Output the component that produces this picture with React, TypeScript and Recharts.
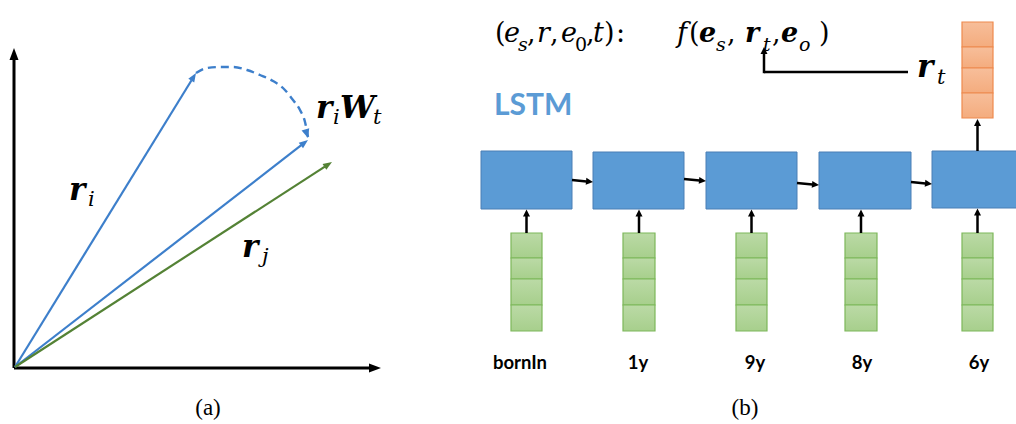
import React from 'react';
import { ComposedChart, XAxis, YAxis, Line, ReferenceLine, ReferenceArea, ReferenceDot } from 'recharts';

const W = 1016;
const H = 424;

// ---------- panel (a): vector space ----------
const originX = 14;
const originY = 368;
const axisEndX = [14, 381];
const axisEndY = [48, 368];
const vectorNames = ['r_i', 'r_iW_t', 'r_j'];
const vectorTipX = [196, 308, 332];
const vectorTipY = [73, 140, 162];
const arcX = [196, 207, 220, 233, 247, 260, 273, 283, 293, 300, 305, 308];
const arcY = [73, 68, 67, 67, 70, 75, 81, 88, 100, 110, 122, 137];

// ---------- panel (b): LSTM chain ----------
const steps = ['bornIn', '1y', '9y', '8y', '6y'];
const boxLeft = [481, 593, 706, 819, 932];
const boxRight = [572, 684, 797, 911, 1023];
const boxTop = [151, 152, 152, 152, 151];
const boxBottom = [209, 209, 209, 209, 208];
const stackLeft = [511, 623, 736, 845, 962];
const stackRight = [542, 655, 767, 877, 993];
const inputCellEdges = [233, 258, 279, 305, 331];
const outputCellEdges = [22, 47, 68, 93, 118];
const linkY1 = [180, 179, 183, 182];
const linkY2 = [182, 181, 185, 184];
const stepLabelX = [520, 638, 755, 862, 979];
const stepLabelY = 369;
const rtPathX = [908, 764, 764];
const rtPathY = [72, 72, 47];
const tagX = [208, 745];
const tagY = 415;
const tags = ['(a)', '(b)'];

// ---------- styles ----------
const BLUE_VEC = '#3D7FCB';
const GREEN_VEC = '#548235';
const BOX_FILL = '#5B9BD5';
const BOX_STROKE = '#4A7FB5';
const MATH_FONT = 'DejaVu Serif';

type Tok = { s: string; dx: number; sub?: boolean; bold?: boolean; up?: boolean };

const arrowShape = (color: string, width: number, headLen: number, headW: number) => (p: any) => {
  const { x1, y1, x2, y2 } = p;
  const ang = Math.atan2(y2 - y1, x2 - x1);
  const bx = x2 - headLen * Math.cos(ang);
  const by = y2 - headLen * Math.sin(ang);
  const px = (-Math.sin(ang) * headW) / 2;
  const py = (Math.cos(ang) * headW) / 2;
  return (
    <g>
      <line x1={x1} y1={y1} x2={bx + 0.5 * Math.cos(ang)} y2={by + 0.5 * Math.sin(ang)} stroke={color} strokeWidth={width} />
      <polygon points={`${x2},${y2} ${bx + px},${by + py} ${bx - px},${by - py}`} fill={color} />
    </g>
  );
};

const plainLine = (color: string, width: number) => (p: any) => (
  <line x1={p.x1} y1={p.y1} x2={p.x2} y2={p.y2} stroke={color} strokeWidth={width} />
);

const mathShape = (toks: Tok[], size: number, subSize: number, subShift: number) => (p: any) => (
  <g>
    {toks.map((t, i) => (
      <text
        key={i}
        x={p.cx + t.dx}
        y={p.cy + (t.sub ? subShift : 0)}
        fill="#000"
        fontFamily={MATH_FONT}
        fontSize={t.sub ? subSize : size}
        fontWeight={t.bold ? 700 : 400}
        fontStyle={t.up ? 'normal' : 'italic'}
      >
        {t.s}
      </text>
    ))}
  </g>
);

const plainTextShape = (s: string, font: string, size: number, weight: number, color: string, anchor: string) => (p: any) => (
  <text x={p.cx} y={p.cy} fontFamily={font} fontSize={size} fontWeight={weight} fill={color} textAnchor={anchor as any}>
    {s}
  </text>
);

const formula1: Tok[] = [
  { s: '(', dx: 0, up: true },
  { s: 'e', dx: 9 },
  { s: 's', dx: 23, sub: true },
  { s: ',', dx: 32, up: true },
  { s: 'r', dx: 42 },
  { s: ',', dx: 55, up: true },
  { s: 'e', dx: 66 },
  { s: '0', dx: 80, sub: true, up: true },
  { s: ',', dx: 91, up: true },
  { s: 't', dx: 98 },
  { s: ')', dx: 109, up: true },
  { s: ':', dx: 121, up: true },
];
const formula2: Tok[] = [
  { s: 'f', dx: 0 },
  { s: '(', dx: 12, up: true },
  { s: 'e', dx: 22, bold: true },
  { s: 's', dx: 39, sub: true },
  { s: ',', dx: 50, up: true },
  { s: 'r', dx: 68, bold: true },
  { s: 't', dx: 86, sub: true },
  { s: ',', dx: 95, up: true },
  { s: 'e', dx: 104, bold: true },
  { s: 'o', dx: 122, sub: true },
  { s: ')', dx: 142, up: true },
];
const labelTokens: Record<string, Tok[]> = {
  r_i: [
    { s: 'r', dx: 0, bold: true },
    { s: 'i', dx: 19, sub: true },
  ],
  r_iW_t: [
    { s: 'r', dx: 0, bold: true },
    { s: 'i', dx: 17, sub: true },
    { s: 'W', dx: 24, bold: true },
    { s: 't', dx: 57, sub: true },
  ],
  r_j: [
    { s: 'r', dx: 0, bold: true },
    { s: 'j', dx: 20, sub: true },
  ],
  r_t: [
    { s: 'r', dx: 0, bold: true },
    { s: 't', dx: 20, sub: true },
  ],
};
const labelAnchorX = [69, 316, 242];
const labelAnchorY = [200, 118, 257];
const rtLabelX = 917;
const rtLabelY = 77;
const formulaX = [495, 677];
const formulaY = 42;
const lstmX = 494;
const lstmY = 115;

export default function App() {
  const arcData = arcX.map((x, i) => ({ x, y: arcY[i] }));
  const out = steps.length - 1;

  return (
    <div style={{ position: 'fixed', left: 0, top: 0, width: W, height: H, overflow: 'hidden', background: '#fff' }}>
      <svg width={0} height={0} style={{ position: 'absolute' }}>
        <defs>
          <linearGradient id="gGreen" x1="0" y1="0" x2="0" y2="1">
            <stop offset="0" stopColor="#BBDAA6" />
            <stop offset="1" stopColor="#A7CF8C" />
          </linearGradient>
          <linearGradient id="gOrange" x1="0" y1="0" x2="0" y2="1">
            <stop offset="0" stopColor="#F7BE9A" />
            <stop offset="1" stopColor="#F4AC7E" />
          </linearGradient>
        </defs>
      </svg>
      <ComposedChart width={W} height={H} margin={{ top: 0, right: 0, bottom: 0, left: 0 }}>
        <XAxis type="number" dataKey="x" domain={[0, W]} hide allowDataOverflow />
        <YAxis type="number" domain={[0, H]} reversed hide allowDataOverflow />

        {/* LSTM boxes */}
        {boxLeft.map((x, i) => (
          <ReferenceArea
            key={`box${i}`}
            x1={x}
            x2={boxRight[i]}
            y1={boxTop[i]}
            y2={boxBottom[i]}
            fill={BOX_FILL}
            fillOpacity={1}
            stroke={BOX_STROKE}
            strokeWidth={1}
            ifOverflow="hidden"
          />
        ))}
        {/* input embeddings */}
        {stackLeft.map((x, i) =>
          inputCellEdges.slice(0, -1).map((y, j) => (
            <ReferenceArea
              key={`in${i}-${j}`}
              x1={x}
              x2={stackRight[i]}
              y1={y}
              y2={inputCellEdges[j + 1]}
              fill="url(#gGreen)"
              fillOpacity={1}
              stroke="#7DB75A"
              strokeWidth={1.2}
              ifOverflow="visible"
            />
          ))
        )}
        {/* output embedding */}
        {outputCellEdges.slice(0, -1).map((y, j) => (
          <ReferenceArea
            key={`out${j}`}
            x1={stackLeft[out]}
            x2={stackRight[out]}
            y1={y}
            y2={outputCellEdges[j + 1]}
            fill="url(#gOrange)"
            fillOpacity={1}
            stroke="#EE8A4E"
            strokeWidth={1.2}
            ifOverflow="visible"
          />
        ))}

        {/* panel (a) axes */}
        {axisEndX.map((x, i) => (
          <ReferenceLine
            key={`axis${i}`}
            segment={[{ x: originX, y: originY }, { x, y: axisEndY[i] }]}
            shape={arrowShape('#000', 3, 12, 9)}
            ifOverflow="visible"
          />
        ))}
        {/* panel (a) vectors */}
        {vectorNames.map((n, i) => (
          <ReferenceLine
            key={`vec${n}`}
            segment={[{ x: originX + 1, y: originY - 1 }, { x: vectorTipX[i], y: vectorTipY[i] }]}
            shape={arrowShape(i === 2 ? GREEN_VEC : BLUE_VEC, 2.2, 9, 7)}
            ifOverflow="visible"
          />
        ))}
        {/* rotation arc */}
        <Line
          data={arcData}
          dataKey="y"
          type="monotone"
          stroke={BLUE_VEC}
          strokeWidth={2.4}
          strokeDasharray="8 5"
          dot={false}
          activeDot={false}
          isAnimationActive={false}
        />
        <ReferenceLine
          segment={[
            { x: arcX[arcX.length - 2], y: arcY[arcY.length - 2] + 6 },
            { x: arcX[arcX.length - 1], y: arcY[arcY.length - 1] + 1 },
          ]}
          shape={arrowShape(BLUE_VEC, 0.01, 9, 8)}
          ifOverflow="visible"
        />

        {/* panel (b) recurrent links */}
        {linkY1.map((y, i) => (
          <ReferenceLine
            key={`link${i}`}
            segment={[{ x: boxRight[i], y }, { x: boxLeft[i + 1], y: linkY2[i] }]}
            shape={arrowShape('#000', 2.5, 7, 7)}
            ifOverflow="visible"
          />
        ))}
        {/* inputs into cells */}
        {stackLeft.map((x, i) => (
          <ReferenceLine
            key={`up${i}`}
            segment={[
              { x: (x + stackRight[i]) / 2, y: inputCellEdges[0] },
              { x: (x + stackRight[i]) / 2, y: boxBottom[i] + 0.5 },
            ]}
            shape={arrowShape('#000', 2.5, 7, 7)}
            ifOverflow="visible"
          />
        ))}
        {/* last cell to output */}
        <ReferenceLine
          segment={[
            { x: (stackLeft[out] + stackRight[out]) / 2, y: boxTop[out] },
            { x: (stackLeft[out] + stackRight[out]) / 2, y: outputCellEdges[outputCellEdges.length - 1] + 1 },
          ]}
          shape={arrowShape('#000', 2.5, 7, 7)}
          ifOverflow="visible"
        />
        {/* r_t feeding the score function */}
        <ReferenceLine
          segment={[{ x: rtPathX[0], y: rtPathY[0] }, { x: rtPathX[1], y: rtPathY[1] }]}
          shape={plainLine('#000', 2.5)}
          ifOverflow="visible"
        />
        <ReferenceLine
          segment={[{ x: rtPathX[1], y: rtPathY[1] + 1.2 }, { x: rtPathX[2], y: rtPathY[2] }]}
          shape={arrowShape('#000', 2.5, 7, 7)}
          ifOverflow="visible"
        />

        {/* texts */}
        {vectorNames.map((n, i) => (
          <ReferenceDot
            key={`lab${n}`}
            x={labelAnchorX[i]}
            y={labelAnchorY[i]}
            r={1}
            shape={mathShape(labelTokens[n], 31, 21, 6)}
            ifOverflow="visible"
          />
        ))}
        <ReferenceDot x={rtLabelX} y={rtLabelY} r={1} shape={mathShape(labelTokens.r_t, 31, 21, 7)} ifOverflow="visible" />
        <ReferenceDot x={formulaX[0]} y={formulaY} r={1} shape={mathShape(formula1, 27, 19, 9)} ifOverflow="visible" />
        <ReferenceDot x={formulaX[1]} y={formulaY} r={1} shape={mathShape(formula2, 27, 19, 9)} ifOverflow="visible" />
        <ReferenceDot x={lstmX} y={lstmY} r={1} shape={plainTextShape('LSTM', 'Lato', 30, 700, BOX_FILL, 'start')} ifOverflow="visible" />
        {steps.map((s, i) => (
          <ReferenceDot
            key={`step${s}`}
            x={stepLabelX[i]}
            y={stepLabelY}
            r={1}
            shape={plainTextShape(s, 'Lato', 18.5, 700, '#000', 'middle')}
            ifOverflow="visible"
          />
        ))}
        {tags.map((t, i) => (
          <ReferenceDot
            key={`tag${t}`}
            x={tagX[i]}
            y={tagY}
            r={1}
            shape={plainTextShape(t, 'Liberation Serif', 23, 400, '#000', 'middle')}
            ifOverflow="visible"
          />
        ))}
      </ComposedChart>
    </div>
  );
}
